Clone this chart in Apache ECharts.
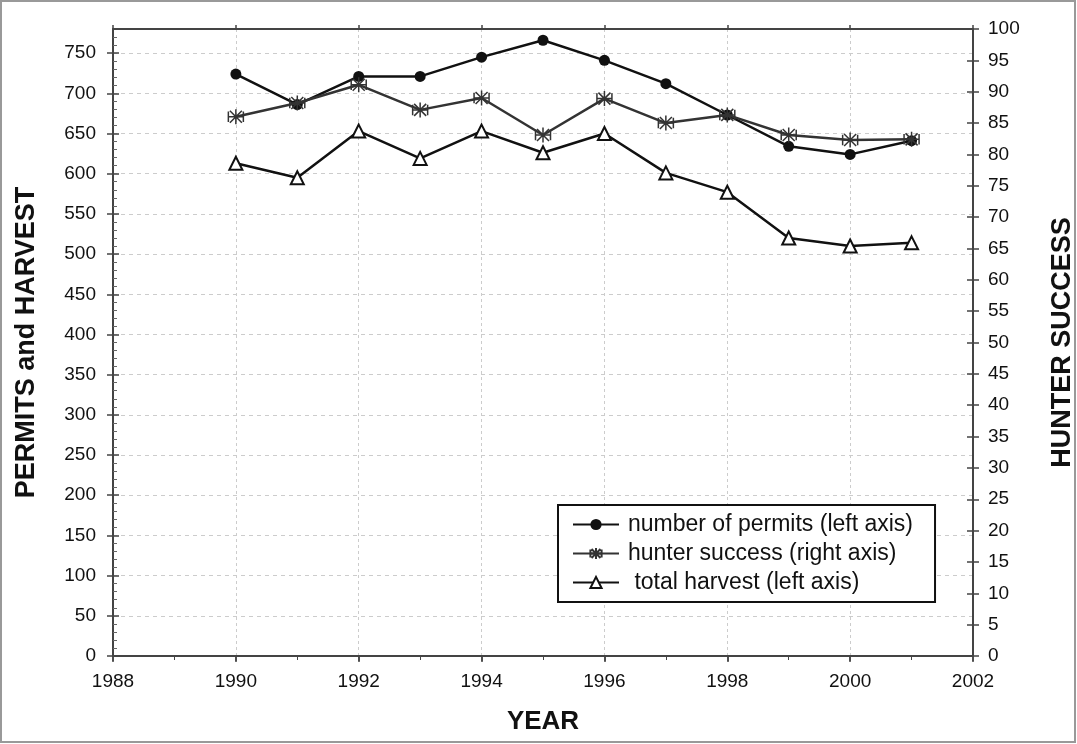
<!DOCTYPE html>
<html>
<head>
<meta charset="utf-8">
<script src="https://cdn.jsdelivr.net/npm/echarts@6/dist/echarts.min.js"></script>
<style>
html,body{margin:0;padding:0;background:#fff;}
#chart{width:1077px;height:744px;}
</style>
</head>
<body>
<div id="chart"></div>
<script>
const years = [1990, 1991, 1992, 1993, 1994, 1995, 1996, 1997, 1998, 1999, 2000, 2001];
const permits = [724, 686, 721, 721, 745, 766, 741, 712, 673, 634, 624, 641];
const hunterSuccess = [86.0, 88.2, 91.1, 87.1, 89.0, 83.1, 88.9, 85.0, 86.3, 83.1, 82.3, 82.4];
const harvest = [613, 595, 653, 619, 653, 626, 650, 601, 577, 520, 510, 514];
const seriesNames = ['number of permits (left axis)', 'hunter success (right axis)', ' total harvest (left axis)'];
const axisNames = { x: 'YEAR', left: 'PERMITS and HARVEST', right: 'HUNTER SUCCESS' };

const pairs = (vals) => years.map((y, i) => [y, vals[i]]);
const FONT = 'Liberation Sans, Arial, sans-serif';
const axisCol = '#444';
const starPath = 'path://M0,-10L0,10M-8,-8L8,8M8,-8L-8,8M-10,0L10,0M-10,-7L-10,7M10,-7L10,7';

const chart = echarts.init(document.getElementById('chart'), null, { renderer: 'canvas' });
chart.setOption({
  backgroundColor: '#fff',
  animation: false,
  textStyle: { fontFamily: FONT },
  graphic: [{
    type: 'rect', silent: true, z: -10,
    shape: { x: 1, y: 1, width: 1074, height: 741 },
    style: { fill: 'none', stroke: '#999', lineWidth: 2 }
  }],
  grid: { left: 113, right: 104, top: 29, bottom: 88, outerBoundsMode: 'none', containLabel: false },
  xAxis: [{
    type: 'value', min: 1988, max: 2002, interval: 2,
    name: axisNames.x, nameLocation: 'middle', nameGap: 53,
    nameTextStyle: { fontSize: 26, fontWeight: 'bold', color: '#111', fontFamily: FONT },
    axisLine: { show: true, onZero: false, lineStyle: { color: axisCol, width: 2 } },
    axisTick: { show: true, length: 6, lineStyle: { color: axisCol, width: 1.5 } },
    minorTick: { show: true, splitNumber: 2, length: 4, lineStyle: { color: axisCol } },
    axisLabel: { fontSize: 19, color: '#111', margin: 16, fontFamily: FONT, formatter: (v) => String(v) },
    splitLine: { show: true, lineStyle: { color: '#ccc', type: [3, 3], width: 1 } }
  }, {
    type: 'value', min: 1988, max: 2002, interval: 2, position: 'top',
    axisLine: { show: true, onZero: false, lineStyle: { color: axisCol, width: 2 } },
    axisTick: { show: true, length: 4, lineStyle: { color: axisCol, width: 1.5 } },
    axisLabel: { show: false },
    splitLine: { show: false }
  }, {
    type: 'value', min: 1988, max: 2002, interval: 2, position: 'top',
    axisLine: { show: false },
    axisTick: { show: true, inside: true, length: 5, lineStyle: { color: axisCol, width: 1.5 } },
    minorTick: { show: true, splitNumber: 2, length: 3, lineStyle: { color: axisCol } },
    axisLabel: { show: false },
    splitLine: { show: false }
  }],
  yAxis: [{
    type: 'value', min: 0, max: 780, interval: 50, position: 'left',
    name: axisNames.left, nameLocation: 'middle', nameGap: 73, nameRotate: 90,
    nameTextStyle: { fontSize: 27, fontWeight: 'bold', color: '#111', fontFamily: FONT },
    axisLine: { show: true, lineStyle: { color: axisCol, width: 2 } },
    axisTick: { show: true, length: 6, lineStyle: { color: axisCol, width: 1.5 } },
    axisLabel: { fontSize: 19, color: '#111', margin: 17, showMaxLabel: false, fontFamily: FONT },
    splitLine: { show: true, lineStyle: { color: '#ccc', type: [4, 4], width: 1 } }
  }, {
    type: 'value', min: 0, max: 100, interval: 5, position: 'right',
    name: axisNames.right, nameLocation: 'middle', nameGap: 76, nameRotate: 90,
    nameTextStyle: { fontSize: 27, fontWeight: 'bold', color: '#111', fontFamily: FONT },
    axisLine: { show: true, lineStyle: { color: axisCol, width: 2 } },
    axisTick: { show: true, length: 6, lineStyle: { color: axisCol, width: 1.5 } },
    axisLabel: { fontSize: 19, color: '#111', margin: 15, fontFamily: FONT },
    splitLine: { show: false }
  }, {
    type: 'value', min: 0, max: 780, interval: 50, position: 'left',
    axisLine: { show: false },
    axisTick: { show: true, inside: true, length: 6, lineStyle: { color: axisCol, width: 1.5 } },
    minorTick: { show: true, splitNumber: 5, length: 4, lineStyle: { color: '#666' } },
    axisLabel: { show: false },
    splitLine: { show: false }
  }, {
    type: 'value', min: 0, max: 100, interval: 5, position: 'right',
    axisLine: { show: false },
    axisTick: { show: true, inside: true, length: 6, lineStyle: { color: axisCol, width: 1.5 } },
    axisLabel: { show: false },
    splitLine: { show: false }
  }],
  legend: {
    orient: 'vertical', left: 558, top: 505,
    padding: [8, 22, 8, 14], itemGap: 6, itemWidth: 46, itemHeight: 14,
    backgroundColor: '#fff', borderColor: '#111', borderWidth: 2,
    textStyle: { fontSize: 23, color: '#111', fontFamily: FONT, padding: [0, 0, 0, 4] },
    data: seriesNames
  },
  series: [{
    name: seriesNames[0], type: 'line', yAxisIndex: 0, z: 3,
    data: pairs(permits),
    symbol: 'circle', symbolSize: 11,
    lineStyle: { color: '#111', width: 2.5 },
    itemStyle: { color: '#111' }
  }, {
    name: seriesNames[2], type: 'line', yAxisIndex: 0, z: 3,
    data: pairs(harvest),
    symbol: 'emptyTriangle', symbolSize: 13,
    lineStyle: { color: '#111', width: 2.5 },
    itemStyle: { color: '#111', borderWidth: 1.5 }
  }, {
    name: seriesNames[1], type: 'line', yAxisIndex: 1, z: 4,
    data: pairs(hunterSuccess),
    symbol: starPath, symbolSize: 15,
    lineStyle: { color: '#333', width: 2.5 },
    itemStyle: { color: 'none', borderColor: '#333', borderWidth: 1.5 }
  }]
});
</script>
</body>
</html>
